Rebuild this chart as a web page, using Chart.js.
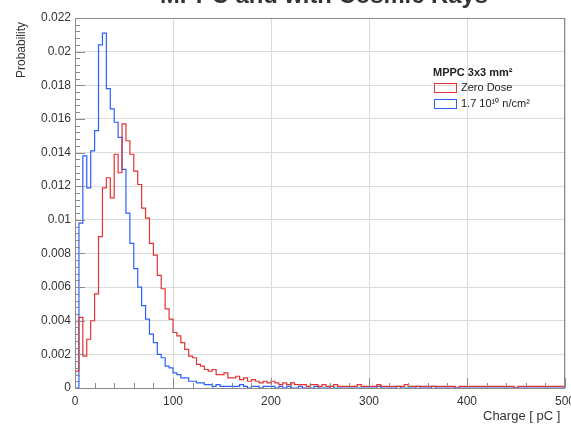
<!DOCTYPE html>
<html>
<head>
<meta charset="utf-8">
<script src="https://cdn.jsdelivr.net/npm/chart.js@4/dist/chart.umd.min.js"></script>
<style>
  html, body { margin: 0; padding: 0; background: #fff; }
  #wrap { width: 571px; height: 427px; position: relative; }
</style>
</head>
<body>
<div id="wrap"><canvas id="chargeChart"></canvas></div>
<script>
// Histogram bins: 4 pC wide, from 0 to 500 pC
const binWidth = 4;
const chargeMin = 0;
const chargeMax = 500;

// Series labels
const legendHeader = 'MPPC 3x3 mm\u00B2';
const seriesLabels = ['Zero Dose', '1.7 10\u00B9\u2070 n/cm\u00B2'];

// Zero dose (red), probability per bin
const zeroDose = [
  0.0010, 0.0042, 0.0019, 0.0029, 0.0040, 0.0056, 0.0090, 0.0119, 0.0125, 0.0113,
  0.0139, 0.0128, 0.0157, 0.0147, 0.0139, 0.0129, 0.0121, 0.0107, 0.0101, 0.0086,
  0.0079, 0.0067, 0.0059, 0.0047, 0.0041, 0.0033, 0.0031, 0.0027, 0.0023, 0.0019,
  0.0018, 0.0014, 0.0013, 0.0011, 0.0010, 0.0011, 0.0008, 0.0008, 0.0009, 0.0006,
  0.0006, 0.0007, 0.0005, 0.0006, 0.0004, 0.0005, 0.0004, 0.0003, 0.0004, 0.0003,
  0.0004, 0.0003, 0.0002, 0.0003, 0.0002, 0.0003, 0.0002, 0.0002, 0.0002, 0.0001,
  0.0002, 0.0002, 0.0001, 0.0002, 0.0001, 0.0001, 0.0002, 0.0001, 0.0001, 0.0001,
  0.0001, 0.0001, 0.0002, 0.0001, 0.0001, 0.0001, 0.0001, 0.0002, 0.0001, 0.0001,
  0.0001, 0.0001, 0.0001, 0.0001, 0.0002, 0.0001, 0.0001, 0.0001, 0.0001, 0.0001,
  0.0001, 0.0001, 0.0001, 0.0001, 0.0001, 0.0001, 0.0001, 0.0000, 0.0001, 0.0001,
  0.0001, 0.0001, 0.0001, 0.0001, 0.0001, 0.0001, 0.0001, 0.0001, 0.0001, 0.0001,
  0.0001, 0.0001, 0.0000, 0.0001, 0.0001, 0.0001, 0.0001, 0.0001, 0.0001, 0.0001,
  0.0001, 0.0001, 0.0001, 0.0001, 0.0001
];

// 1.7e10 n/cm2 (blue), probability per bin
const irradiated = [
  0.0000, 0.0098, 0.0138, 0.0119, 0.0141, 0.0153, 0.0204, 0.0211, 0.0178, 0.0166,
  0.0158, 0.0149, 0.0130, 0.0104, 0.0086, 0.0071, 0.0060, 0.0049, 0.0041, 0.0032,
  0.0027, 0.0020, 0.0018, 0.0013, 0.0012, 0.0009, 0.0008, 0.0006, 0.0006, 0.0004,
  0.0004, 0.0003, 0.0003, 0.0002, 0.0002, 0.0001, 0.0002, 0.0001, 0.0001, 0.0001,
  0.0001, 0.0001, 0.0002, 0.0001, 0.0000, 0.0001, 0.0001, 0.0000, 0.0001, 0.0001,
  0.0001, 0.0000, 0.0001, 0.0000, 0.0001, 0.0000, 0.0000, 0.0001, 0.0000, 0.0000,
  0.0000, 0.0001, 0.0000, 0.0000, 0.0000, 0.0001, 0.0000, 0.0000, 0.0000, 0.0000,
  0.0000, 0.0000, 0.0000, 0.0000, 0.0000, 0.0000, 0.0000, 0.0001, 0.0000, 0.0000,
  0.0000, 0.0000, 0.0001, 0.0000, 0.0000, 0.0000, 0.0000, 0.0001, 0.0000, 0.0000,
  0.0000, 0.0001, 0.0000, 0.0000, 0.0000, 0.0000, 0.0000, 0.0000, 0.0000, 0.0000,
  0.0000, 0.0000, 0.0000, 0.0000, 0.0000, 0.0000, 0.0000, 0.0000, 0.0000, 0.0000,
  0.0000, 0.0000, 0.0000, 0.0000, 0.0000, 0.0000, 0.0000, 0.0000, 0.0000, 0.0000,
  0.0000, 0.0000, 0.0000, 0.0000, 0.0000
];

const titleText = 'MPPC and with Cosmic Rays';
const xTitle = 'Charge [ pC ]';
const yTitle = 'Probability';

// Turn per-bin values into step points (left edge of each bin, plus closing edge)
function toSteps(values) {
  const pts = values.map((v, i) => ({ x: chargeMin + i * binWidth, y: v }));
  pts.push({ x: chargeMin + values.length * binWidth, y: values[values.length - 1] });
  return pts;
}

const RED = 'rgb(228, 50, 50)';
const BLUE = 'rgb(45, 95, 255)';
const FRAME = '#8a8a8a';
const TEXT = '#333';

// Frame, inside ticks, titles and legend, drawn in ROOT style
const rootStyle = {
  id: 'rootStyle',
  afterDraw(chart) {
    const { ctx, chartArea: a, scales: { x, y } } = chart;
    ctx.save();

    // frame
    ctx.strokeStyle = FRAME;
    ctx.lineWidth = 1;
    ctx.strokeRect(a.left + 0.5, a.top + 0.5, a.right - a.left - 1, a.bottom - a.top);

    // x ticks (inside, every 20 pC)
    ctx.beginPath();
    for (let v = 0; v <= chargeMax; v += 20) {
      const px = Math.round(x.getPixelForValue(v)) + 0.5;
      const len = v % 100 === 0 ? 10 : 5;
      ctx.moveTo(px, a.bottom);
      ctx.lineTo(px, a.bottom - len);
    }
    // y ticks (inside, every 0.0004)
    for (let k = 0; k <= 55; k++) {
      const py = Math.round(y.getPixelForValue(k * 0.0004)) + 0.5;
      const len = k % 5 === 0 ? 10 : 5;
      ctx.moveTo(a.left, py);
      ctx.lineTo(a.left + len, py);
    }
    ctx.stroke();

    // main title, mostly above the picture
    ctx.fillStyle = TEXT;
    ctx.font = 'bold 20px "Liberation Sans", Arial, sans-serif';
    const w = ctx.measureText(titleText).width;
    const size = 20 * 328 / w;
    ctx.font = 'bold ' + size.toFixed(1) + 'px "Liberation Sans", Arial, sans-serif';
    ctx.textAlign = 'center';
    ctx.textBaseline = 'alphabetic';
    ctx.fillText(titleText, 324, 3);

    // axis titles
    ctx.font = '13px "Liberation Sans", Arial, sans-serif';
    ctx.textAlign = 'left';
    ctx.textBaseline = 'middle';
    ctx.fillText(xTitle, 483, 416);

    ctx.save();
    ctx.translate(22, 22);
    ctx.rotate(-Math.PI / 2);
    ctx.font = '12px "Liberation Sans", Arial, sans-serif';
    ctx.textAlign = 'right';
    ctx.fillText(yTitle, 0, 0);
    ctx.restore();

    // legend
    ctx.textAlign = 'left';
    ctx.textBaseline = 'middle';
    ctx.font = 'bold 11px "Liberation Sans", Arial, sans-serif';
    ctx.fillStyle = '#222';
    ctx.fillText(legendHeader, 433, 73);
    ctx.font = '11px "Liberation Sans", Arial, sans-serif';
    const colors = [RED, BLUE];
    seriesLabels.forEach((label, i) => {
      const rowY = 88 + i * 16;
      ctx.strokeStyle = colors[i];
      ctx.lineWidth = 1;
      ctx.strokeRect(434.5, rowY - 4.5, 22, 9);
      ctx.fillStyle = '#222';
      ctx.fillText(label, 461, rowY);
    });

    ctx.restore();
  }
};

const chart = new Chart(document.getElementById('chargeChart'), {
  type: 'line',
  data: {
    datasets: [
      {
        label: seriesLabels[0],
        data: toSteps(zeroDose),
        borderColor: RED,
        borderWidth: 1.2,
        stepped: 'before',
        pointRadius: 0,
        fill: false
      },
      {
        label: seriesLabels[1],
        data: toSteps(irradiated),
        borderColor: BLUE,
        borderWidth: 1.2,
        stepped: 'before',
        pointRadius: 0,
        fill: false
      }
    ]
  },
  options: {
    responsive: true,
    maintainAspectRatio: false,
    animation: false,
    layout: { padding: { top: 18, right: 6, left: 0, bottom: 0 } },
    plugins: {
      legend: { display: false },
      title: { display: false },
      tooltip: { enabled: false }
    },
    scales: {
      x: {
        type: 'linear',
        min: chargeMin,
        max: chargeMax,
        ticks: {
          stepSize: 100,
          padding: 6,
          color: TEXT,
          font: { family: '"Liberation Sans", Arial, sans-serif', size: 12 },
          maxRotation: 0
        },
        grid: { color: '#dcdcdc', drawTicks: false },
        border: { display: false },
        afterFit(scale) {
          scale.height = 39;
          scale.paddingLeft = 0;
          scale.paddingRight = 0;
        }
      },
      y: {
        min: 0,
        max: 0.022,
        ticks: {
          stepSize: 0.002,
          padding: 4,
          color: TEXT,
          font: { family: '"Liberation Sans", Arial, sans-serif', size: 12 },
          callback: v => String(+v.toFixed(3))
        },
        grid: { color: '#dcdcdc', drawTicks: false },
        border: { display: false },
        afterFit(scale) {
          scale.width = 75;
          scale.paddingTop = 0;
          scale.paddingBottom = 0;
        }
      }
    }
  },
  plugins: [rootStyle]
});
</script>
</body>
</html>
